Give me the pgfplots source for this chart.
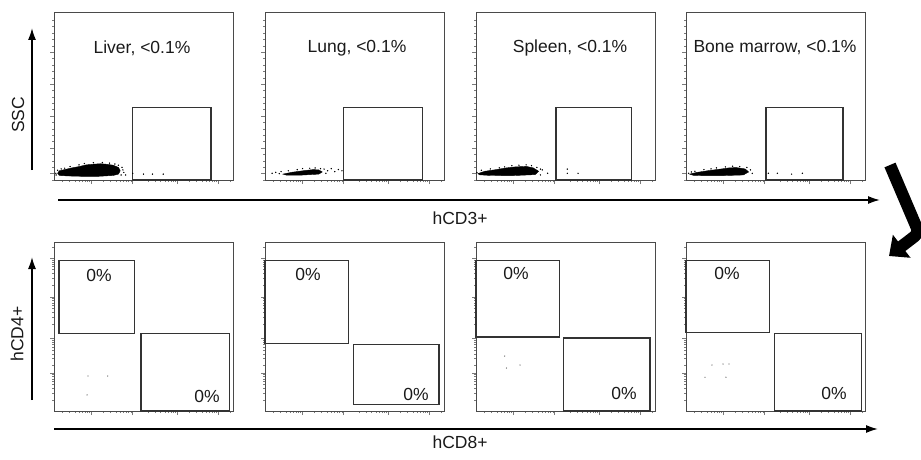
\documentclass[border=0pt]{standalone}
\usepackage{pgfplots}
\pgfplotsset{compat=1.18}
\usepackage{fontspec}
\setmainfont{Liberation Sans}
\usetikzlibrary{arrows.meta}
\definecolor{framec}{HTML}{4A4A4A}
\definecolor{tickc}{HTML}{7A7A7A}
\definecolor{gatec}{HTML}{333333}
\definecolor{txtc}{HTML}{1A1A1A}
\newcommand\lbl{\fontsize{17.5}{20}\selectfont}

% log-decade minor ticks (tick positions only)
\def\xminors{}
\foreach \e in {0.21,0.44,0.69,0.92}{%
  \foreach \l in {0.301,0.477,0.602,0.699,0.778,0.845,0.903,0.954}{%
    \pgfmathsetmacro\tmpv{\e-0.235*(1-\l)}%
    \xdef\xminors{\xminors\tmpv,}}}
\xdef\xminors{\xminors 0.985}
\def\yminors{}
\foreach \e in {0.225,0.43,0.675,0.905}{%
  \foreach \l in {0.301,0.477,0.602,0.699,0.778,0.845,0.903,0.954}{%
    \pgfmathsetmacro\tmpv{\e-0.23*(1-\l)}%
    \xdef\yminors{\yminors\tmpv,}}}
\xdef\yminors{\yminors 0.97}

\tikzset{gate/.style={draw=gatec, line width=1.05pt}}
\pgfplotsset{
  panel/.style={scale only axis, anchor=south west,
    xmin=0, xmax=1, ymin=0, ymax=1,
    axis line style={draw=framec, line width=1pt},
    xtick pos=lower, ytick pos=left, tick align=outside,
    major tick length=4pt, minor tick length=2pt,
    tick style={draw=tickc, line width=0.6pt},
    xticklabels={}, yticklabels={},
    xtick={0.21,0.44,0.69,0.92}, minor xtick/.expand once=\xminors,
    clip=false},
  toprow/.style={panel, width=179pt, height=168pt,
    ytick={0.04,0.19,0.38,0.57,0.76},
    minor ytick={0.0,0.076,0.114,0.152,0.228,0.266,0.304,0.342,0.418,0.456,0.494,0.532,0.608,0.646,0.684,0.722,0.798,0.836,0.874,0.912,0.95}},
  botrow/.style={panel, width=179pt, height=169pt,
    ytick={0.225,0.43,0.675,0.905}, minor ytick/.expand once=\yminors},
  blob/.style={fill=black, draw=black, line width=0.4pt},
  dots/.style={only marks, mark=*, mark size=0.45pt, black},
  gdots/.style={only marks, mark=*, mark size=0.4pt, gray},
}

\begin{document}
\begin{tikzpicture}[x=1pt,y=1pt]
\useasboundingbox (0,0) rectangle (921,459);

% ---------------- top row ----------------
\begin{axis}[toprow, at={(54pt,279pt)}]
\addplot[blob] coordinates {(0.02,0.04) (0.03,0.055) (0.06,0.062) (0.10,0.072) (0.14,0.08) (0.18,0.09) (0.22,0.094) (0.26,0.097) (0.30,0.093) (0.33,0.088) (0.36,0.075) (0.37,0.055) (0.36,0.035) (0.33,0.027) (0.25,0.022) (0.15,0.022) (0.08,0.024) (0.03,0.027)} --cycle;
\addplot[dots] coordinates {(0.01,0.04) (0.012,0.03) (0.02,0.058) (0.04,0.066) (0.06,0.07) (0.09,0.08) (0.14,0.09) (0.17,0.098) (0.22,0.103) (0.27,0.104) (0.31,0.1) (0.34,0.095) (0.36,0.088) (0.38,0.075) (0.385,0.06) (0.39,0.045) (0.375,0.03) (0.40,0.03) (0.44,0.04) (0.50,0.035) (0.55,0.035) (0.61,0.035)};
\draw[gate] (axis cs:0.44,0) rectangle (axis cs:0.877,0.43);
\end{axis}

\begin{axis}[toprow, at={(265pt,279pt)}]
\addplot[blob] coordinates {(0.10,0.035) (0.15,0.046) (0.22,0.056) (0.27,0.062) (0.30,0.06) (0.32,0.048) (0.30,0.035) (0.2,0.029) (0.12,0.029)} --cycle;
\addplot[dots] coordinates {(0.04,0.04) (0.06,0.045) (0.08,0.038) (0.09,0.05) (0.13,0.055) (0.18,0.062) (0.21,0.068) (0.25,0.07) (0.28,0.072) (0.31,0.068) (0.33,0.065) (0.35,0.055) (0.37,0.068) (0.39,0.05) (0.41,0.062) (0.43,0.055) (0.34,0.04)};
\draw[gate] (axis cs:0.44,0) rectangle (axis cs:0.88,0.43);
\end{axis}

\begin{axis}[toprow, at={(476pt,279pt)}]
\addplot[blob] coordinates {(0.01,0.038) (0.05,0.052) (0.12,0.063) (0.17,0.072) (0.22,0.078) (0.28,0.081) (0.32,0.072) (0.35,0.052) (0.33,0.032) (0.2,0.026) (0.08,0.027) (0.02,0.031)} --cycle;
\addplot[dots] coordinates {(0.005,0.045) (0.03,0.058) (0.08,0.066) (0.13,0.072) (0.16,0.078) (0.2,0.085) (0.24,0.088) (0.28,0.09) (0.31,0.085) (0.34,0.075) (0.36,0.065) (0.37,0.06) (0.40,0.04) (0.51,0.065) (0.51,0.04) (0.57,0.04) (0.36,0.03)};
\draw[gate] (axis cs:0.447,0) rectangle (axis cs:0.87,0.43);
\end{axis}

\begin{axis}[toprow, at={(686pt,279pt)}]
\addplot[blob] coordinates {(0.02,0.035) (0.06,0.045) (0.12,0.055) (0.2,0.066) (0.24,0.072) (0.28,0.074) (0.33,0.066) (0.35,0.048) (0.32,0.03) (0.2,0.026) (0.1,0.026) (0.04,0.028)} --cycle;
\addplot[dots] coordinates {(0.015,0.04) (0.03,0.048) (0.05,0.052) (0.1,0.062) (0.14,0.066) (0.17,0.072) (0.22,0.078) (0.26,0.082) (0.3,0.08) (0.34,0.075) (0.36,0.06) (0.37,0.04) (0.46,0.04) (0.51,0.04) (0.59,0.035) (0.65,0.04)};
\draw[gate] (axis cs:0.447,0) rectangle (axis cs:0.877,0.43);
\end{axis}

% ---------------- bottom row ----------------
\begin{axis}[botrow, at={(54pt,48pt)}]
\addplot[gdots] coordinates {(0.19,0.207) (0.30,0.207) (0.185,0.095)};
\draw[gate] (axis cs:0.028,0.46) rectangle (axis cs:0.45,0.893);
\draw[gate] (axis cs:0.486,0) rectangle (axis cs:0.978,0.456);
\end{axis}

\begin{axis}[botrow, at={(265pt,48pt)}]
\draw[gate] (axis cs:0,0.402) rectangle (axis cs:0.464,0.888);
\draw[gate] (axis cs:0.497,0.036) rectangle (axis cs:0.972,0.396);
\end{axis}

\begin{axis}[botrow, at={(476pt,48pt)}]
\addplot[gdots] coordinates {(0.16,0.325) (0.17,0.254) (0.246,0.272)};
\draw[gate] (axis cs:0,0.438) rectangle (axis cs:0.464,0.893);
\draw[gate] (axis cs:0.49,0) rectangle (axis cs:0.972,0.432);
\end{axis}

\begin{axis}[botrow, at={(686pt,48pt)}]
\addplot[gdots] coordinates {(0.145,0.272) (0.207,0.278) (0.24,0.278) (0.106,0.2) (0.223,0.2)};
\draw[gate] (axis cs:0,0.467) rectangle (axis cs:0.464,0.893);
\draw[gate] (axis cs:0.497,0) rectangle (axis cs:0.978,0.456);
\end{axis}

% ---------------- texts ----------------
\begin{scope}[every node/.style={text=txtc, font=\lbl, inner sep=0pt}]
\node at (142,411) {Liver, <0.1\%};
\node at (357,411) {Lung, <0.1\%};
\node at (570,411) {Spleen, <0.1\%};
\node at (775,411) {Bone marrow, <0.1\%};
\node at (99,184) {0\%};   \node at (207,63) {0\%};
\node at (308,185) {0\%};  \node at (416,65) {0\%};
\node at (516,186) {0\%};  \node at (624,66) {0\%};
\node at (727,186) {0\%};  \node at (834,66) {0\%};
\node[rotate=90] at (18,344) {SSC};
\node[rotate=90] at (17,125) {hCD4+};
\node at (460,241) {hCD3+};
\node at (460,17) {hCD8+};
\end{scope}

% ---------------- axis arrows ----------------
\draw[line width=1.6pt, -{Latex[length=12pt,width=8pt]}] (32,289) -- (32,431);
\draw[line width=1.6pt, -{Latex[length=12pt,width=8pt]}] (32,59) -- (32,202);
\draw[line width=1.6pt, -{Latex[length=12pt,width=8pt]}] (58,259) -- (880,259);
\draw[line width=1.6pt, -{Latex[length=12pt,width=8pt]}] (54,30) -- (878,30);

% big curved arrow
\draw[line width=12pt, rounded corners=6pt, -{Triangle[length=16pt,width=28pt]}] (890,294) -- (919,226) -- (889,203);
\end{tikzpicture}
\end{document}
